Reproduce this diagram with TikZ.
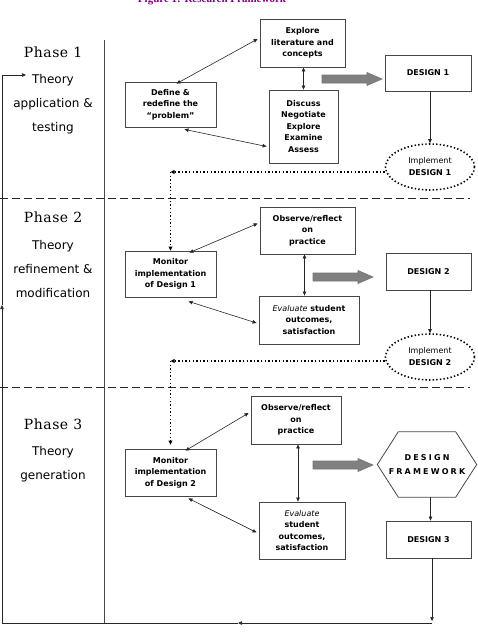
\documentclass[tikz,border=0pt]{standalone}
\usepackage{fontspec}
\setmainfont{DejaVu Sans}
\newfontfamily\phasefont[LetterSpace=4]{DejaVu Serif}
\newfontfamily\widefont[LetterSpace=27]{DejaVu Sans}
\newfontfamily\titlefont{Liberation Serif}
\usetikzlibrary{arrows.meta,shapes.geometric}
\definecolor{ttl}{RGB}{128,0,128}
\definecolor{bord}{RGB}{70,70,70}
\definecolor{greyarrow}{RGB}{128,128,128}
\newcommand\grarrow[1]{\draw[bigarr] ([shift={(-30,-4)}]#1) -- ([shift={(15,-4)}]#1) -- ([shift={(15,-6.5)}]#1) -- ([shift={(30,0)}]#1) -- ([shift={(15,6.5)}]#1) -- ([shift={(15,4)}]#1) -- ([shift={(-30,4)}]#1) -- cycle;}
\begin{document}
\begin{tikzpicture}[x=1pt,y=-1pt,
  box/.style={draw=bord,line width=0.8pt,rectangle,inner sep=1pt,align=center,font=\fontsize{8}{11.5}\selectfont\bfseries},
  dbl/.style={{Triangle[length=4pt,width=3.5pt]}-{Triangle[length=4pt,width=3.5pt]},line width=0.6pt,draw=black!85},
  arr/.style={-{Triangle[length=4pt,width=3.5pt]},line width=0.6pt,draw=black!85},
  dots/.style={-{Triangle[length=4pt,width=3.8pt]},line width=1.6pt,dash pattern=on 1.4pt off 2.2pt},
  impl/.style={ellipse,draw=black,line width=1.6pt,dash pattern=on 1.4pt off 2.2pt,minimum width=89pt,minimum height=46pt,inner sep=0pt,align=center,font=\fontsize{8}{12}\selectfont},
  bigarr/.style={draw=black!55,fill=greyarrow,line width=0.6pt},
  phase/.style={font=\phasefont\fontsize{14}{16}\selectfont},
  desc/.style={align=center,font=\fontsize{12}{24}\selectfont},
  sep/.style={dash pattern=on 8pt off 4pt,line width=0.9pt,draw=black!85},
]
\useasboundingbox (0,0) rectangle (478,640);

% title (clipped at top, as in the reference)
\node[anchor=base,font=\titlefont\bfseries\fontsize{11}{13}\selectfont,text=ttl] (title) at (212,2.5) {Figure 1: Research Framework};

% phase column
\draw[bord,line width=0.6pt] (104,40) -- (104,623);
\draw[sep] (0,198) -- (470,198);
\draw[sep] (0,387) -- (470,387);

\node[phase] (p1) at (53,52) {Phase 1};
\node[desc] (p1d) at (53,104) {Theory\\application \&\\testing};
\node[phase] (p2) at (53,217) {Phase 2};
\node[desc] (p2d) at (53,269) {Theory\\refinement \&\\modification};
\node[phase] (p3) at (53,424) {Phase 3};
\node[desc] (p3d) at (53,464.5) {Theory\\generation};

% Phase 1
\node[box,minimum width=85pt,minimum height=48pt] (expl) at (302.5,43) {Explore\\literature and\\concepts};
\node[box,minimum width=91pt,minimum height=45pt] (def) at (170.5,104.5) {Define \&\\redefine the\\``problem''};
\node[box,minimum width=69pt,minimum height=73pt] (disc) at (303.5,126.5) {Discuss\\Negotiate\\Explore\\Examine\\Assess};
\node[box,minimum width=86pt,minimum height=36pt] (d1) at (428,73) {DESIGN 1};
\node[impl] (imp1) at (430,167) {Implement\\\textbf{DESIGN 1}};
\coordinate (ga1) at (352,79);
\grarrow{ga1}

\draw[dbl] ([xshift=6pt,yshift=-2pt]def.north) -- ([xshift=-2pt,yshift=4pt]expl.west);
\draw[dbl] ([xshift=14pt,yshift=-2pt]def.south) -- ([xshift=-2pt,yshift=-20pt]disc.west);
\draw[dbl] (disc.north |- expl.south) -- (disc.north);
\draw[arr] (d1.south -| imp1.north) -- (imp1.north);

\coordinate (c1) at (170.5,172);
\draw[dots] ([yshift=-5pt]imp1.west) -- (c1);

% Phase 2
\node[box,minimum width=95pt,minimum height=47pt] (obs1) at (307.5,230.5) {Observe/reflect\\on\\practice};
\node[box,minimum width=91pt,minimum height=46pt] (mon1) at (170.5,274) {Monitor\\implementation\\of Design 1};
\node[box,minimum width=100pt,minimum height=48pt] (eva1) at (309,320) {{\normalfont\itshape Evaluate} student\\outcomes,\\satisfaction};
\node[box,minimum width=85pt,minimum height=37pt] (d2) at (428.5,271.5) {DESIGN 2};
\node[impl] (imp2) at (430,357) {Implement\\\textbf{DESIGN 2}};
\coordinate (ga2) at (343,277);
\grarrow{ga2}

\draw[dots] (c1) -- (mon1.north);
\draw[dbl] ([xshift=19pt,yshift=-2pt]mon1.north) -- ([xshift=-2pt,yshift=7pt]obs1.west);
\draw[dbl] ([xshift=18pt,yshift=-4pt]mon1.south) -- ([xshift=-2pt,yshift=-3pt]eva1.west);
\draw[dbl] ([xshift=-3pt]obs1.south) -- ([xshift=-3pt]obs1.south |- eva1.north);
\draw[arr] (d2.south -| imp2.north) -- (imp2.north);

\coordinate (c2) at (170.5,361);
\draw[dots] ([yshift=-4pt]imp2.west) -- (c2);

% Phase 3
\node[box,minimum width=90pt,minimum height=48pt] (obs2) at (296,420) {Observe/reflect\\on\\practice};
\node[box,minimum width=91pt,minimum height=47pt] (mon2) at (170.5,472.5) {Monitor\\implementation\\of Design 2};
\node[box,minimum width=86pt,minimum height=57pt] (eva2) at (302,530.5) {{\normalfont\itshape Evaluate}\\student\\outcomes,\\satisfaction};
\node[minimum width=99pt,minimum height=65pt,inner sep=0pt,align=center,font=\widefont\bfseries\fontsize{8}{14}\selectfont] (hex) at (427,464.5) {DESIGN\\FRAMEWORK};
\draw[bord,line width=0.8pt] (hex.west) -- ([xshift=21pt]hex.north west) -- ([xshift=-21pt]hex.north east) -- (hex.east) -- ([xshift=-21pt]hex.south east) -- ([xshift=21pt]hex.south west) -- cycle;
\node[box,minimum width=85pt,minimum height=37pt] (d3) at (428.5,539.5) {DESIGN 3};
\coordinate (ga3) at (343,465);
\grarrow{ga3}

\draw[dots] (c2) -- ([yshift=4pt]mon2.north);
\draw[dbl] ([xshift=15pt,yshift=-2pt]mon2.north) -- ([xshift=-2pt,yshift=7pt]obs2.west);
\draw[dbl] ([xshift=18pt,yshift=-2pt]mon2.south) -- ([xshift=-2pt,yshift=-2pt]eva2.west);
\draw[dbl] ([xshift=2pt]obs2.south) -- ([xshift=2pt]obs2.south |- eva2.north);
\draw[arr] ([xshift=3.5pt]hex.south) -- ([xshift=3.5pt]hex.south |- d3.north);

% loop back
\coordinate (b1) at (432,623);
\coordinate (bm) at (238,623);
\coordinate (b2) at (2,623);
\coordinate (lm) at (2,305);
\coordinate (b3) at (2,75);
\coordinate (b4) at (26,75);
\draw[arr] (b1 |- d3.south) -- ([yshift=2pt]b1);
\draw[arr] (b1) -- (bm);
\draw[arr] (bm) -- (b2) -- (lm);
\draw[arr] (lm) -- (b3) -- (b4);
\end{tikzpicture}
\end{document}
